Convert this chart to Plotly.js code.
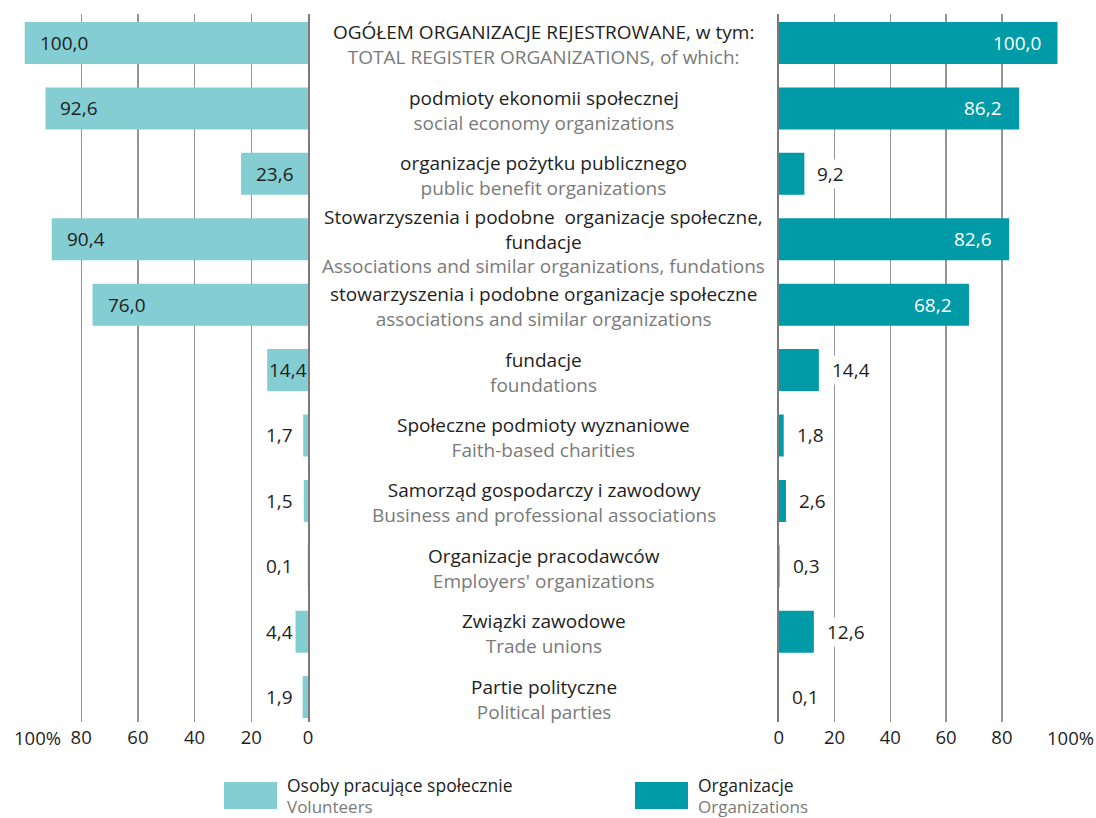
<!DOCTYPE html>
<html>
<head>
<meta charset="utf-8">
<script src="https://cdn.plot.ly/plotly-3.0.1.min.js"></script>
<style>html,body{margin:0;padding:0;background:#fff;}</style>
</head>
<body>
<div id="chart" style="width:1096px;height:818px;"></div>
<script>
// ---------- DATA ----------
const categoriesPL = [
  "OGÓŁEM ORGANIZACJE REJESTROWANE, w tym:",
  "podmioty ekonomii społecznej",
  "organizacje pożytku publicznego",
  "Stowarzyszenia i podobne  organizacje społeczne,<br>fundacje",
  "stowarzyszenia i podobne organizacje społeczne",
  "fundacje",
  "Społeczne podmioty wyznaniowe",
  "Samorząd gospodarczy i zawodowy",
  "Organizacje pracodawców",
  "Związki zawodowe",
  "Partie polityczne"
];
const categoriesEN = [
  "TOTAL REGISTER ORGANIZATIONS, of which:",
  "social economy organizations",
  "public benefit organizations",
  "Associations and similar organizations, fundations",
  "associations and similar organizations",
  "foundations",
  "Faith-based charities",
  "Business and professional associations",
  "Employers' organizations",
  "Trade unions",
  "Political parties"
];
const volunteers    = [100.0, 92.6, 23.6, 90.4, 76.0, 14.4, 1.7, 1.5, 0.1, 4.4, 1.9];
const organizations = [100.0, 86.2,  9.2, 82.6, 68.2, 14.4, 1.8, 2.6, 0.3, 12.6, 0.1];
const tickValues = [0, 20, 40, 60, 80, 100];
const tickLabels = ["0", "20", "40", "60", "80", "100%"];
const seriesPL = ["Osoby pracujące społecznie", "Organizacje"];
const seriesEN = ["Volunteers", "Organizations"];

// ---------- STYLE ----------
const W = 1096, H = 818;
const M = {l: 0, r: 0, t: 14, b: 96};
const FONT = "Open Sans, Noto Sans, sans-serif";
const C_LIGHT = "#84CDD2";
const C_DARK = "#009BA6";
const C_PL = "#1e1e1e";
const C_EN = "#7a7a7a";
const GRID = "#959595";

const px2x = p => (p - M.l) / (W - M.l - M.r);
const px2y = p => (H - M.b - p) / (H - M.t - M.b);

const fmt = v => v.toFixed(1).replace(".", ",");
const ids = categoriesPL.slice(); // category keys
const yRange = [10.38, -0.443];

const traces = [
  {
    type: "bar", orientation: "h", name: seriesPL[0],
    y: ids, x: volunteers, xaxis: "x", yaxis: "y",
    marker: {color: C_LIGHT, line: {width: 0}}, width: 0.642,
    hoverinfo: "x"
  },
  {
    type: "bar", orientation: "h", name: seriesPL[1],
    y: ids, x: organizations, xaxis: "x2", yaxis: "y2",
    marker: {color: C_DARK, line: {width: 0}}, width: 0.642,
    hoverinfo: "x"
  }
];

const annotations = [];
// center labels
ids.forEach((id, i) => {
  annotations.push({
    xref: "paper", yref: "y", x: px2x(543.5), y: id,
    xanchor: "center", yanchor: "middle", yshift: -2,
    showarrow: false, align: "center",
    font: {family: FONT, size: 19, color: C_PL},
    text: `<span style="color:${C_PL}">${categoriesPL[i]}</span><br><span style="color:${C_EN}">${categoriesEN[i]}</span>`
  });
});
// left value labels
volunteers.forEach((v, i) => {
  const a = {xref: "x", yref: "y", y: ids[i], showarrow: false, yanchor: "middle",
    font: {family: FONT, size: 19, color: C_PL}, text: fmt(v)};
  if (v >= 20) { a.x = v; a.xanchor = "left"; a.xshift = 13; }
  else if (v >= 10) { a.x = v / 2; a.xanchor = "center"; }
  else { a.x = 0; a.xanchor = "right"; a.xshift = -13; a.bgcolor = "#fff"; }
  annotations.push(a);
});
// right value labels
organizations.forEach((v, i) => {
  const a = {xref: "x2", yref: "y2", y: ids[i], showarrow: false, yanchor: "middle",
    font: {family: FONT, size: 19, color: C_PL}, text: fmt(v)};
  if (v >= 20) { a.x = v; a.xanchor = "right"; a.xshift = -15; a.font.color = "#fff"; }
  else { a.x = v; a.xanchor = "left"; a.xshift = 11; a.bgcolor = "#fff"; }
  annotations.push(a);
});
// "100%" end tick labels (number centred on gridline, % hanging to the right)
["x", "x2"].forEach(ax => {
  annotations.push({xref: ax, yref: "paper", x: tickValues[tickValues.length - 1], y: px2y(737),
    xanchor: "left", yanchor: "middle", xshift: -13, showarrow: false,
    font: {family: FONT, size: 18.5, color: C_PL}, text: tickLabels[tickLabels.length - 1]});
});
const shownTicks = tickLabels.map((t, i) => i === tickLabels.length - 1 ? "" : t);
// legend
const legendItems = [
  {x0: 224, x1: 277, tx: 286, color: C_LIGHT},
  {x0: 635, x1: 688, tx: 697, color: C_DARK}
];
const shapes = [];
legendItems.forEach((it, k) => {
  shapes.push({type: "rect", xref: "paper", yref: "paper",
    x0: px2x(it.x0), x1: px2x(it.x1), y0: px2y(809), y1: px2y(782),
    fillcolor: it.color, line: {width: 0}});
  annotations.push({xref: "paper", yref: "paper", x: px2x(it.tx), y: px2y(784.5),
    xanchor: "left", yanchor: "middle", showarrow: false, align: "left", borderpad: 0,
    font: {family: FONT, size: 17.5, color: C_PL}, text: seriesPL[k]});
  annotations.push({xref: "paper", yref: "paper", x: px2x(it.tx), y: px2y(806.5),
    xanchor: "left", yanchor: "middle", showarrow: false, align: "left", borderpad: 0,
    font: {family: FONT, size: 17, color: C_EN}, text: seriesEN[k]});
});

const axX = {
  tickvals: tickValues, ticktext: shownTicks, showgrid: true, gridcolor: GRID, gridwidth: 1.3,
  zeroline: false, showline: false, ticks: "", fixedrange: true, ticklabelstandoff: 2,
  tickfont: {family: FONT, size: 18.5, color: C_PL}
};
const layout = {
  width: W, height: H, margin: M, paper_bgcolor: "#fff", plot_bgcolor: "#fff",
  showlegend: false, barmode: "overlay",
  font: {family: FONT},
  xaxis: Object.assign({}, axX, {domain: [px2x(24.5), px2x(308)], range: [100, 0], anchor: "y"}),
  xaxis2: Object.assign({}, axX, {domain: [px2x(778.7), px2x(1057.7)], range: [0, 100], anchor: "y2"}),
  yaxis: {type: "category", range: yRange, showticklabels: false, showgrid: false, zeroline: false,
    showline: true, linecolor: "#7a7a7a", linewidth: 2, side: "right", anchor: "x", layer: "above traces", ticks: ""},
  yaxis2: {type: "category", range: yRange, showticklabels: false, showgrid: false, zeroline: false,
    showline: true, linecolor: "#7a7a7a", linewidth: 2, side: "left", anchor: "x2", layer: "above traces", ticks: ""},
  annotations: annotations,
  shapes: shapes
};
Plotly.newPlot("chart", traces, layout, {displayModeBar: false, staticPlot: true});
</script>
</body>
</html>
